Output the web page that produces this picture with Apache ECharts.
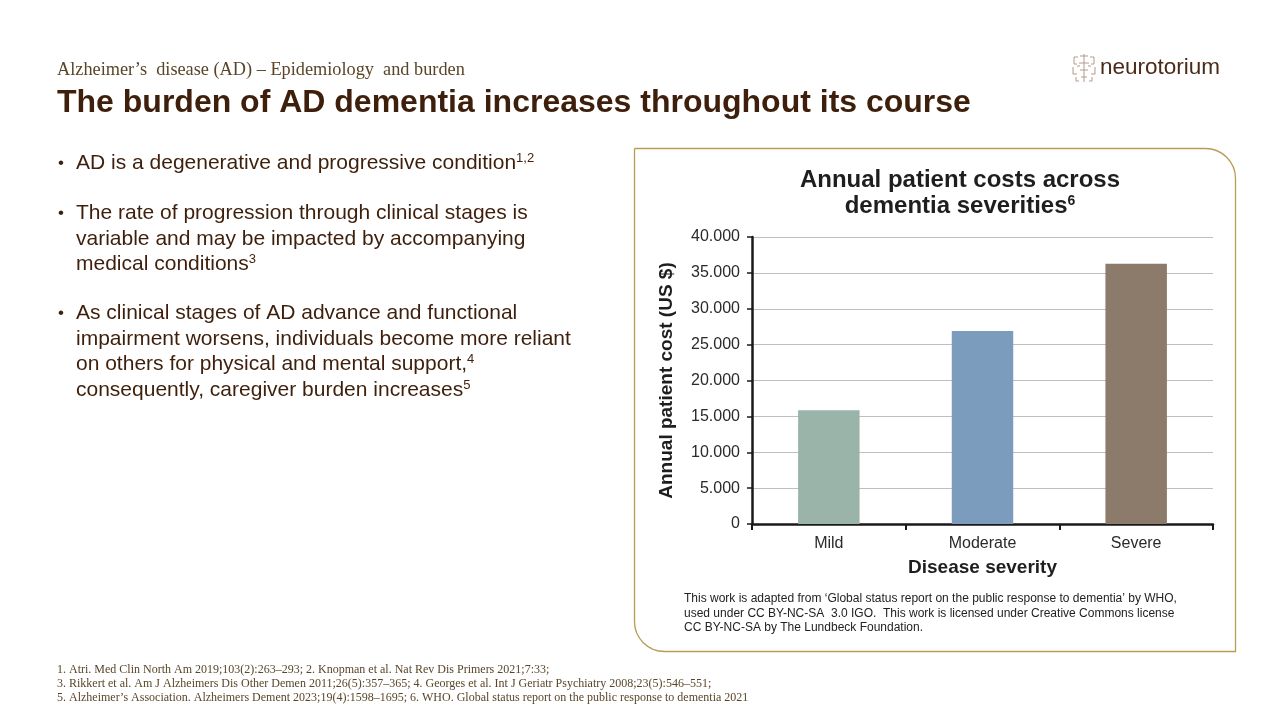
<!DOCTYPE html>
<html>
<head>
<meta charset="utf-8">
<script src="https://cdn.jsdelivr.net/npm/echarts@6/dist/echarts.min.js"></script>
<style>
html,body{margin:0;padding:0;background:#fff;}
#c{width:1280px;height:720px;}
</style>
</head>
<body>
<div id="c"></div>
<script>
const categories = ['Mild', 'Moderate', 'Severe'];
const costs = [15850, 26900, 36270];
const barColors = ['#9BB4A9', '#7B9CBC', '#8C7A6A'];
const yMin = 0, yMax = 40000, yStep = 5000;
const chartTitle = ['Annual patient costs across', 'dementia severities'];
const yAxisTitle = 'Annual patient cost (US $)';
const xAxisTitle = 'Disease severity';
const noteLines = [
  'This work is adapted from \u2018Global status report on the public response to dementia\u2019 by WHO,',
  'used under CC BY-NC-SA  3.0 IGO.  This work is licensed under Creative Commons license',
  'CC BY-NC-SA by The Lundbeck Foundation.'
];
const footnotes = [
  '1. Atri. Med Clin North Am 2019;103(2):263\u2013293; 2. Knopman et al. Nat Rev Dis Primers 2021;7:33;',
  '3. Rikkert et al. Am J Alzheimers Dis Other Demen 2011;26(5):357\u2013365; 4. Georges et al. Int J Geriatr Psychiatry 2008;23(5):546\u2013551;',
  '5. Alzheimer\u2019s Association. Alzheimers Dement 2023;19(4):1598\u20131695; 6. WHO. Global status report on the public response to dementia 2021'
];

const brown = '#3D1F0C';
const sans = 'Liberation Sans, Arial, sans-serif';
const serif = 'Liberation Serif, Times New Roman, serif';
const bodySize = 21;

function fmt(v){ return v === 0 ? '0' : String(v).replace(/\B(?=(\d{3})+(?!\d))/g, '.'); }

function txt(x, y, text, style){
  return {type:'text', x:x, y:y, style:Object.assign({text:text, fill:brown, font:bodySize + 'px ' + sans, textVerticalAlign:'middle'}, style||{})};
}
const supRich = {
  n:{fontSize:bodySize, fontFamily:sans, fill:brown, color:brown},
  s:{fontSize:13, fontFamily:sans, fill:brown, color:brown, padding:[0,0,9,0]}
};
function richLine(x, y, str){
  return {type:'text', x:x, y:y, style:{text:str, rich:supRich, textVerticalAlign:'middle', fill:brown, font:bodySize + 'px ' + sans}};
}

const graphic = [
  // panel
  {type:'rect', shape:{x:634.5, y:148.5, width:601, height:503, r:[0,30,0,30]}, style:{fill:'none', stroke:'#B89C55', lineWidth:1.3}, z:-1},
  // header
  txt(57, 70, 'Alzheimer\u2019s  disease (AD) \u2013 Epidemiology  and burden', {font:'18.3px ' + serif, fill:'#5A4528'}),
  txt(57, 103, 'The burden of AD dementia increases throughout its course', {font:'bold 32px ' + sans, fill:brown}),
  // logo text
  txt(1100, 68, 'neurotorium', {font:'22.5px ' + sans, fill:'#4A2A18'}),
  // bullets
  txt(58, 163, '\u2022', {font:'17px ' + sans}),
  richLine(76, 163, '{n|AD is a degenerative and progressive condition}{s|1,2}'),
  txt(58, 213, '\u2022', {font:'17px ' + sans}),
  txt(76, 213, 'The rate of progression through clinical stages is'),
  txt(76, 239, 'variable and may be impacted by accompanying'),
  richLine(76, 264, '{n|medical conditions}{s|3}'),
  txt(58, 313, '\u2022', {font:'17px ' + sans}),
  txt(76, 313, 'As clinical stages of AD advance and functional'),
  txt(76, 339, 'impairment worsens, individuals become more reliant'),
  richLine(76, 364, '{n|on others for physical and mental support,}{s|4}'),
  richLine(76, 390, '{n|consequently, caregiver burden increases}{s|5}'),
  // chart title
  txt(960, 180, chartTitle[0], {font:'bold 24px ' + sans, fill:'#1E1E1E', textAlign:'center'}),
  {type:'text', x:960, y:206, style:{text:'{t|' + chartTitle[1] + '}{u|6}', textAlign:'center', textVerticalAlign:'middle',
    rich:{t:{fontSize:24, fontWeight:'bold', fontFamily:sans, fill:'#1E1E1E', color:'#1E1E1E'},
          u:{fontSize:14, fontWeight:'bold', fontFamily:sans, fill:'#1E1E1E', color:'#1E1E1E', padding:[0,0,10,0]}}}},
];
noteLines.forEach((l,i)=>graphic.push(txt(684, 599 + i*14.5, l, {font:'12px ' + sans, fill:'#222'})));
footnotes.forEach((l,i)=>graphic.push(txt(57, 670 + i*14, l, {font:'12px ' + serif, fill:'#5A4528'})));

// logo icon (simple brain-like glyph)
const ic = '#B49A8A';
const iconLines = [
  [[1084,54],[1084,82]],
  [[1080,56],[1088,56]], [[1079,63],[1089,63]], [[1080,70],[1088,70]], [[1081,77],[1087,77]],
  [[1078,57],[1074,57],[1074,64],[1077,64]], [[1090,57],[1094,57],[1094,64],[1091,64]],
  [[1073,67],[1073,74],[1077,74]], [[1095,67],[1095,74],[1091,74]],
  [[1076,77],[1076,81],[1079,81]], [[1092,77],[1092,81],[1089,81]],
  [[1077,66],[1080,66]], [[1088,66],[1091,66]]
];
iconLines.forEach(p=>graphic.push({type:'polyline', shape:{points:p}, style:{stroke:ic, lineWidth:1, fill:'none'}}));

const chart = echarts.init(document.getElementById('c'), null, {renderer:'canvas'});
chart.setOption({
  animation:false,
  backgroundColor:'#ffffff',
  grid:{left:752, top:237, right:67, bottom:196, containLabel:false},
  xAxis:{
    type:'category', data:categories,
    name:xAxisTitle, nameLocation:'middle', nameGap:34,
    nameTextStyle:{fontSize:19, fontWeight:'bold', color:'#1E1E1E', fontFamily:sans},
    axisLine:{lineStyle:{color:'#1A1A1A', width:2.5}},
    axisTick:{show:true, alignWithLabel:false, length:6, lineStyle:{color:'#1A1A1A', width:2}},
    axisLabel:{fontSize:16, color:'#2A2A2A', fontFamily:sans, margin:12}
  },
  yAxis:{
    type:'value', min:yMin, max:yMax, interval:yStep,
    name:yAxisTitle, nameLocation:'middle', nameGap:76, nameRotate:90,
    nameTextStyle:{fontSize:19, fontWeight:'bold', color:'#1E1E1E', fontFamily:sans},
    axisLine:{show:true, lineStyle:{color:'#1A1A1A', width:2.5}},
    axisTick:{show:true, length:5, lineStyle:{color:'#1A1A1A', width:1.5}},
    axisLabel:{fontSize:16, color:'#2A2A2A', fontFamily:sans, margin:12, formatter:fmt},
    splitLine:{lineStyle:{color:'#BFBFBF', width:1}}
  },
  series:[{
    type:'bar', data:costs.map((v,i)=>({value:v, itemStyle:{color:barColors[i]}})),
    barWidth:'40%'
  }],
  graphic:graphic
});
</script>
</body>
</html>
